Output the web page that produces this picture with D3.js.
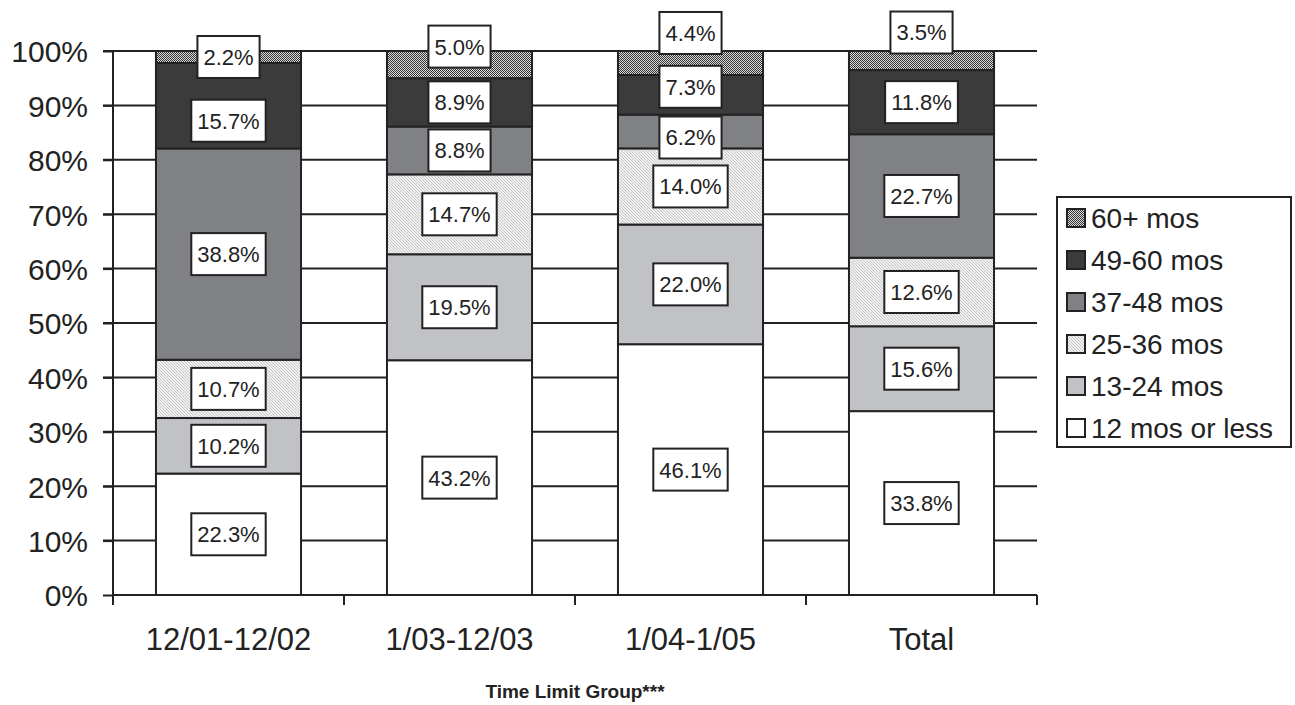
<!DOCTYPE html>
<html><head><meta charset="utf-8">
<script src="https://cdn.jsdelivr.net/npm/d3@7"></script>
<style>
body{margin:0;background:#fff}
svg{display:block}
text{font-family:"Liberation Sans",Arial,Helvetica,sans-serif;fill:#222}
</style>
</head><body>
<svg id="chart" width="1295" height="705"></svg>
<script>
// ---- data ----
const categories = ["12/01-12/02", "1/03-12/03", "1/04-1/05", "Total"];
const seriesNames = ["12 mos or less", "13-24 mos", "25-36 mos", "37-48 mos", "49-60 mos", "60+ mos"];
const mos12orLess = [22.3, 43.2, 46.1, 33.8];
const mos13to24   = [10.2, 19.5, 22.0, 15.6];
const mos25to36   = [10.7, 14.7, 14.0, 12.6];
const mos37to48   = [38.8, 8.8, 6.2, 22.7];
const mos49to60   = [15.7, 8.9, 7.3, 11.8];
const mos60plus   = [2.2, 5.0, 4.4, 3.5];
const yTickValues = [0, 0.1, 0.2, 0.3, 0.4, 0.5, 0.6, 0.7, 0.8, 0.9, 1.0];
const axisTitle = "Time Limit Group***";
// manual label nudges (px), per series (bottom->top) per category, as in the source
const labelNudge = [
  [0, 0, 0, 0],
  [0, 0, 0, 0],
  [0, 0, 0, 0],
  [0, 0, 6, 0],
  [15, 0, -8, 0],
  [0, -18, -30, -28]
];

const seriesValues = [mos12orLess, mos13to24, mos25to36, mos37to48, mos49to60, mos60plus];
const rows = categories.map((c, i) => {
  const r = {cat: c};
  seriesNames.forEach((s, k) => r[s] = seriesValues[k][i]);
  return r;
});

const svg = d3.select("#chart");
const defs = svg.append("defs");

// checker pattern (60+)
const pd = defs.append("pattern").attr("id", "pDots").attr("patternUnits", "userSpaceOnUse")
  .attr("width", 2).attr("height", 2);
pd.append("rect").attr("width", 2).attr("height", 2).attr("fill", "#dcdcdc");
pd.append("rect").attr("x", 0).attr("y", 0).attr("width", 1).attr("height", 1).attr("fill", "#333");
pd.append("rect").attr("x", 1).attr("y", 1).attr("width", 1).attr("height", 1).attr("fill", "#333");

// light diagonal hatch (25-36)
const ph = defs.append("pattern").attr("id", "pHatch").attr("patternUnits", "userSpaceOnUse")
  .attr("width", 3).attr("height", 3);
ph.append("rect").attr("width", 3).attr("height", 3).attr("fill", "#f0f0f0");
ph.append("path").attr("d", "M0,0 L3,3 M-1,2 L1,4 M2,-1 L4,1").attr("stroke", "#c2c2c2").attr("stroke-width", 0.9);

const fills = ["#ffffff", "#c1c2c5", "url(#pHatch)", "#808184", "#3b3b3b", "url(#pDots)"];

const plotLeft = 113, plotRight = 1037, plotTop = 51, plotBottom = 595;
const x = d3.scaleBand().domain(categories).range([plotLeft, plotRight]).paddingInner(0.372).paddingOuter(0.186);
const y = d3.scaleLinear().domain([0, 1]).range([plotBottom, plotTop]);

const stack = d3.stack().keys(seriesNames).offset(d3.stackOffsetExpand);
const series = stack(rows);

// gridlines
svg.append("g").selectAll("line").data(yTickValues.filter(v => v > 0)).join("line")
  .attr("x1", plotLeft - 10).attr("x2", plotRight)
  .attr("y1", d => y(d)).attr("y2", d => y(d))
  .attr("stroke", "#222").attr("stroke-width", 2);

// bars
const bars = svg.append("g");
series.forEach((s, k) => {
  bars.append("g").selectAll("rect").data(s).join("rect")
    .attr("x", d => x(d.data.cat))
    .attr("width", x.bandwidth())
    .attr("y", d => y(d[1]))
    .attr("height", d => y(d[0]) - y(d[1]))
    .attr("fill", fills[k])
    .attr("stroke", "#222").attr("stroke-width", 2);
});

// y axis
const yAxis = d3.axisLeft(y).tickValues(yTickValues).tickFormat(d3.format(".0%")).tickSize(10).tickPadding(15);
const gy = svg.append("g").attr("transform", `translate(${plotLeft},0)`).call(yAxis);
gy.select(".domain").attr("stroke", "#222").attr("stroke-width", 2).attr("d", `M0,${plotTop}V${plotBottom}`);
gy.selectAll(".tick line").attr("stroke", "#222").attr("stroke-width", 2);
gy.selectAll(".tick text").attr("font-size", 30).attr("fill", "#222").attr("dy", "0.36em");
gy.attr("font-family", null);

// x axis
const gx = svg.append("g").attr("transform", `translate(0,${plotBottom})`);
gx.append("line").attr("x1", plotLeft).attr("x2", plotRight).attr("y1", 0).attr("y2", 0)
  .attr("stroke", "#222").attr("stroke-width", 2);
const bounds = categories.map(c => x(c) - x.step() * x.paddingInner() / 2).concat([plotRight]);
gx.selectAll("line.tk").data(bounds).join("line").attr("class", "tk")
  .attr("x1", d => d).attr("x2", d => d).attr("y1", 0).attr("y2", 10)
  .attr("stroke", "#222").attr("stroke-width", 2);
gx.selectAll("text.cat").data(categories).join("text").attr("class", "cat")
  .attr("x", d => x(d) + x.bandwidth() / 2).attr("y", 55)
  .attr("text-anchor", "middle").attr("font-size", 31).text(d => d);

svg.append("text").attr("x", (plotLeft + plotRight) / 2).attr("y", 698)
  .attr("text-anchor", "middle").attr("font-size", 19).attr("font-weight", "bold").text(axisTitle);

// data labels
const lab = svg.append("g");
series.forEach((s, k) => {
  s.forEach((d, i) => {
    const cx = x(d.data.cat) + x.bandwidth() / 2;
    const cy = (y(d[0]) + y(d[1])) / 2 + labelNudge[k][i];
    const g = lab.append("g");
    const t = g.append("text").attr("x", cx).attr("y", cy).attr("dy", "0.36em")
      .attr("text-anchor", "middle").attr("font-size", 22)
      .text(d3.format(".1f")(seriesValues[k][i]) + "%");
    const bb = t.node().getBBox();
    g.insert("rect", "text")
      .attr("x", cx - bb.width / 2 - 6).attr("y", cy - 21)
      .attr("width", bb.width + 12).attr("height", 42)
      .attr("fill", "#fff").attr("stroke", "#222").attr("stroke-width", 2);
  });
});

// legend
const lg = svg.append("g");
lg.append("rect").attr("x", 1057).attr("y", 197).attr("width", 234).attr("height", 250)
  .attr("fill", "#fff").attr("stroke", "#222").attr("stroke-width", 2);
const legendOrder = seriesNames.map((s, k) => k).reverse();
const ly = d3.scalePoint().domain(legendOrder).range([218, 428]);
legendOrder.forEach(k => {
  lg.append("rect").attr("x", 1067).attr("y", ly(k) - 9).attr("width", 18).attr("height", 18)
    .attr("fill", fills[k]).attr("stroke", "#222").attr("stroke-width", 2);
  lg.append("text").attr("x", 1091).attr("y", ly(k)).attr("dy", "0.36em")
    .attr("font-size", 28).text(seriesNames[k]);
});
</script>
</body></html>
